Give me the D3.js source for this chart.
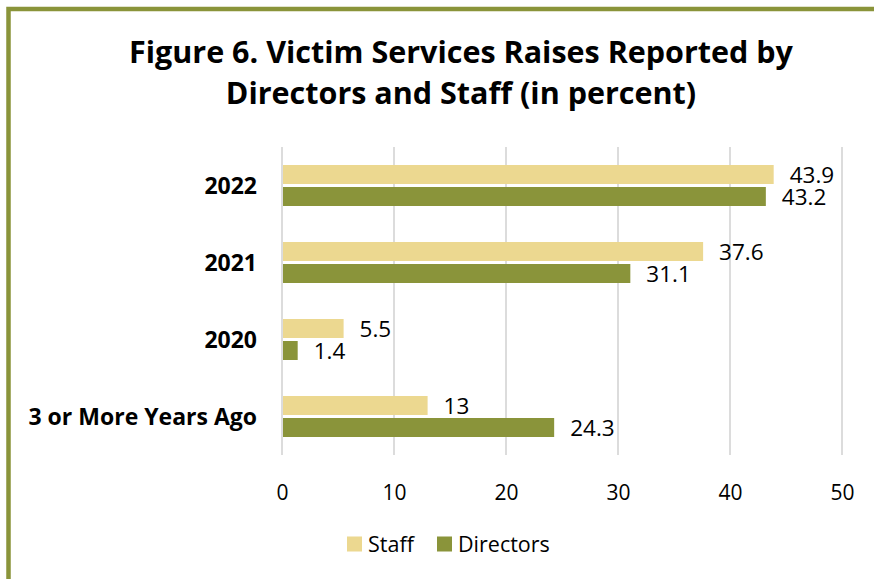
<!DOCTYPE html>
<html>
<head>
<meta charset="utf-8">
<script src="https://cdn.jsdelivr.net/npm/d3@7"></script>
<style>
  body { margin: 0; background: #fff; }
  svg { display: block; font-family: "Open Sans", "Noto Sans", sans-serif; }
</style>
</head>
<body>
<div id="chart"></div>
<script>
// Chart data
const categories = ['2022', '2021', '2020', '3 or More Years Ago']
const seriesNames = ['Staff', 'Directors']
const staffValues = [43.9, 37.6, 5.5, 13]
const directorValues = [43.2, 31.1, 1.4, 24.3]
const xTicks = [0, 10, 20, 30, 40, 50]
const titleLines = ['Figure 6. Victim Services Raises Reported by', 'Directors and Staff (in percent)']

const colors = { Staff: '#ecd890', Directors: '#8a943a' }

let width = 874,
    height = 579

let svg = d3.select('#chart').append('svg')
    .attr('width', width)
    .attr('height', height)

// Frame: olive border on top and left
svg.append('path')
  .attr('d', 'M8.5,' + height + ' V9 H' + width)
  .attr('fill', 'none')
  .attr('stroke', '#8a943a')
  .attr('stroke-width', 4.5)

// Title
svg.append('g')
  .selectAll('text')
  .data(titleLines)
  .join('text')
  .attr('x', 461)
  .attr('y', (d, i) => 63 + i * 41)
  .attr('text-anchor', 'middle')
  .attr('font-size', 30.5)
  .attr('font-weight', 700)
  .attr('fill', '#000')
  .text(d => d)

// Scales
let xScale = d3.scaleLinear()
    .domain([0, 50])
    .range([282, 842])

let yScale = d3.scaleBand()
    .domain(categories)
    .range([147, 455])
    .paddingInner(36 / 77)
    .paddingOuter(18 / 77)

let ySub = d3.scaleBand()
    .domain(seriesNames)
    .range([0, yScale.bandwidth()])
    .paddingInner(3 / 22)

// Gridlines
svg.append('g')
  .selectAll('line')
  .data(xTicks)
  .join('line')
  .attr('x1', d => xScale(d))
  .attr('x2', d => xScale(d))
  .attr('y1', 147)
  .attr('y2', 455)
  .attr('stroke', '#d9d9d9')
  .attr('stroke-width', 1.8)

// X axis labels
let xAxis = d3.axisBottom(xScale)
    .tickValues(xTicks)
    .tickSize(0)
    .tickPadding(0)

let xg = svg.append('g')
    .attr('transform', 'translate(0,500)')
    .call(xAxis)
xg.select('.domain').remove()
xg.selectAll('text')
  .attr('dy', 0)
  .attr('font-size', 21)
  .attr('font-family', '"Open Sans", "Noto Sans", sans-serif')
  .attr('fill', '#000')

// Y axis labels
let yAxis = d3.axisLeft(yScale)
    .tickSize(0)
    .tickPadding(0)

let yg = svg.append('g')
    .attr('transform', 'translate(257,0)')
    .call(yAxis)
yg.select('.domain').remove()
yg.selectAll('text')
  .attr('dy', '0.35em')
  .attr('font-size', 23)
  .attr('font-weight', 700)
  .attr('font-family', '"Open Sans", "Noto Sans", sans-serif')
  .attr('fill', '#000')

// Bars
let rows = categories.map((c, i) => ({
  category: c,
  values: [
    { series: 'Staff', value: staffValues[i] },
    { series: 'Directors', value: directorValues[i] }
  ]
}))

let groups = svg.append('g')
  .selectAll('g')
  .data(rows)
  .join('g')
  .attr('transform', d => 'translate(0,' + yScale(d.category) + ')')

groups.selectAll('rect')
  .data(d => d.values)
  .join('rect')
  .attr('x', xScale(0) + 1)
  .attr('y', d => ySub(d.series))
  .attr('width', d => xScale(d.value) - xScale(0) - 1)
  .attr('height', ySub.bandwidth())
  .attr('fill', d => colors[d.series])

groups.selectAll('text')
  .data(d => d.values)
  .join('text')
  .attr('x', d => xScale(d.value) + 16)
  .attr('y', d => ySub(d.series) + ySub.bandwidth() / 2 + 1)
  .attr('dy', '0.35em')
  .attr('font-size', 22.5)
  .attr('fill', '#000')
  .text(d => d.value)

// Legend
let legend = svg.append('g')
    .attr('transform', 'translate(347,544)')

let legendX = [0, 90]
let items = legend.selectAll('g')
  .data(seriesNames)
  .join('g')
  .attr('transform', (d, i) => 'translate(' + legendX[i] + ',0)')

items.append('rect')
  .attr('x', 0)
  .attr('y', -7.5)
  .attr('width', 15)
  .attr('height', 15)
  .attr('fill', d => colors[d])

items.append('text')
  .attr('x', 21)
  .attr('y', 0)
  .attr('dy', '0.35em')
  .attr('font-size', 21.5)
  .attr('fill', '#000')
  .text(d => d)
</script>
</body>
</html>
